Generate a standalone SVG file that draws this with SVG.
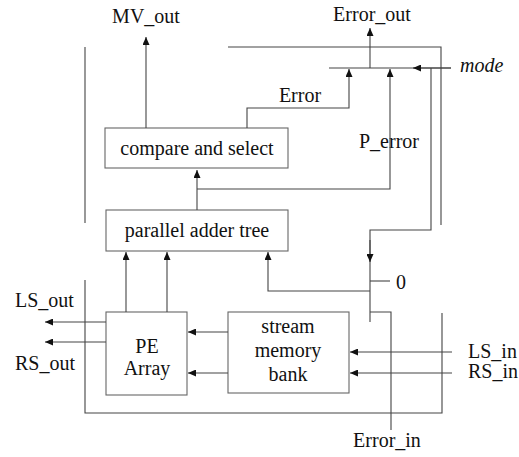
<svg xmlns="http://www.w3.org/2000/svg" width="519" height="457" viewBox="0 0 519 457">
<defs>
<marker id="ah" markerUnits="userSpaceOnUse" markerWidth="8" markerHeight="7" viewBox="0 0 8 7" refX="8" refY="3.5" orient="auto">
<path d="M0,0 L8,3.5 L0,7 Z" fill="#111"/>
</marker>
<style>
.box{fill:none;stroke:#666;stroke-width:1.1}
.ln{fill:none;stroke:#444;stroke-width:1.1}
.arr{fill:none;stroke:#444;stroke-width:1.1;marker-end:url(#ah)}
text{font-family:"Liberation Serif","Times New Roman",serif;font-size:20px;fill:#111}
.c{text-anchor:middle}
.i{font-style:italic}
</style>
</defs>
<rect width="519" height="457" fill="#fff"/>
<g id="compare">
<rect class="box" x="105" y="128" width="183" height="40"/>
<text class="c" x="197" y="155">compare and select</text>
</g>
<g id="adder">
<rect class="box" x="106" y="210" width="182" height="41"/>
<text class="c" x="197" y="237">parallel adder tree</text>
</g>
<g id="pe">
<rect class="box" x="106" y="312" width="81" height="83"/>
<text class="c" x="147" y="353">PE</text>
<text class="c" x="147" y="375">Array</text>
</g>
<g id="stream">
<rect class="box" x="228" y="312" width="121" height="81"/>
<text class="c" x="288" y="333">stream</text>
<text class="c" x="288" y="357">memory</text>
<text class="c" x="288" y="381">bank</text>
</g>
<g id="labels">
<text class="c" x="146" y="23">MV_out</text>
<text class="c" x="372" y="21">Error_out</text>
<text class="c" x="300" y="102">Error</text>
<text class="c" x="389" y="148">P_error</text>
<text class="i" x="460" y="72">mode</text>
<text x="15" y="307">LS_out</text>
<text x="15" y="370">RS_out</text>
<text x="468" y="358">LS_in</text>
<text x="468" y="378">RS_in</text>
<text class="c" x="387" y="447">Error_in</text>
<text x="396" y="289">0</text>
</g>
<g id="connectors">
<path class="arr" d="M146,128 V37"/>
<path class="arr" d="M247,128 V108 H349 V69"/>
<path class="arr" d="M197,210 V170"/>
<path class="arr" d="M197,189 H390 V69"/>
<path class="ln" d="M329,68 H451"/>
<path class="arr" d="M451,68 H413"/>
<path class="arr" d="M370,68 V28"/>
<path class="ln" d="M228,47 H441 V225"/>
<path class="ln" d="M85,47 V223"/>
<path class="ln" d="M431,68 V230 H370 V322"/>
<path class="arr" d="M370,240 V262"/>
<path class="ln" d="M370,281 H390"/>
<path class="arr" d="M370,291 H268 V252"/>
<path class="ln" d="M391,430 V312 H370"/>
<path class="arr" d="M452,352 H350"/>
<path class="arr" d="M452,373 H350"/>
<path class="ln" d="M442,313 V413 H85 V280"/>
<path class="arr" d="M228,332 H188"/>
<path class="arr" d="M228,373 H188"/>
<path class="arr" d="M126,312 V252"/>
<path class="arr" d="M167,312 V252"/>
<path class="arr" d="M106,322 H45"/>
<path class="arr" d="M106,342 H45"/>
</g>
</svg>
